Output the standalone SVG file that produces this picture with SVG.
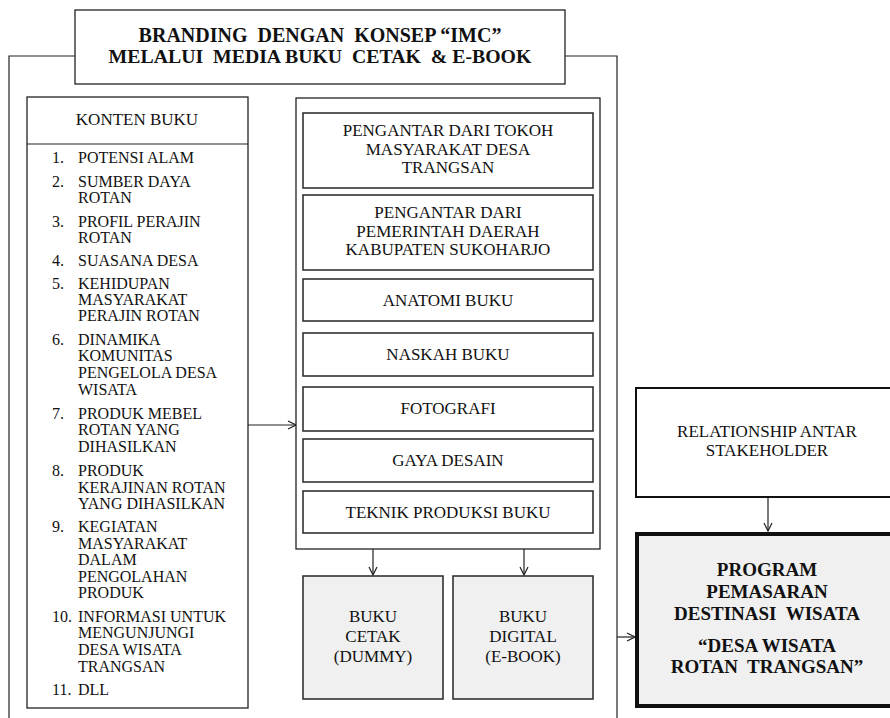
<svg xmlns="http://www.w3.org/2000/svg" width="890" height="718" viewBox="0 0 890 718">
<style>
text{font-family:"Liberation Serif","Times New Roman",serif;fill:#111}
.t{font-size:16px}
.m{font-size:17px;text-anchor:middle}
.b{font-weight:bold;text-anchor:middle}
.box{fill:#fff;stroke:#222;stroke-width:1.3}
.in{fill:#fff;stroke:#333;stroke-width:1.6}
.gray{fill:#f0f0f0;stroke:#333;stroke-width:1.6}
.ln{fill:none;stroke:#222;stroke-width:1.2}
</style>
<defs>
<marker id="ah" markerWidth="10" markerHeight="10" refX="9" refY="5" orient="auto" markerUnits="userSpaceOnUse">
<path d="M1,1 L9,5 L1,9" fill="none" stroke="#222" stroke-width="1.2"/>
</marker>
</defs>
<g id="connectors">
<path class="ln" d="M75,56 H9 V718"/>
<path class="ln" d="M565,56 H617 V718"/>
<path class="ln" d="M248,425 H296" marker-end="url(#ah)"/>
<path class="ln" d="M373,549 V575" marker-end="url(#ah)"/>
<path class="ln" d="M524,549 V575" marker-end="url(#ah)"/>
<path class="ln" d="M617,637 H635" marker-end="url(#ah)"/>
<path class="ln" d="M768,497 V531" marker-end="url(#ah)"/>
</g>
<g id="title">
<rect class="box" x="75" y="10" width="490" height="74"/>
<text class="b" x="320" y="42" font-size="20" xml:space="preserve">BRANDING  DENGAN  KONSEP “IMC”</text>
<text class="b" x="320" y="63" font-size="19.8" xml:space="preserve">MELALUI  MEDIA BUKU  CETAK  &amp; E-BOOK</text>
</g>
<g id="konten-buku">
<rect class="box" x="27" y="97" width="221" height="611"/>
<line class="ln" x1="27" y1="144" x2="248" y2="144"/>
<text class="m" x="137" y="125">KONTEN BUKU</text>
<g class="t">
<text x="52" y="163">1.</text><text x="78" y="163">POTENSI ALAM</text>
<text x="52" y="187">2.</text><text x="78" y="187">SUMBER DAYA</text><text x="78" y="203">ROTAN</text>
<text x="52" y="227">3.</text><text x="78" y="227">PROFIL PERAJIN</text><text x="78" y="243">ROTAN</text>
<text x="52" y="266">4.</text><text x="78" y="266">SUASANA DESA</text>
<text x="52" y="289">5.</text><text x="78" y="289">KEHIDUPAN</text><text x="78" y="305">MASYARAKAT</text><text x="78" y="321">PERAJIN ROTAN</text>
<text x="52" y="345">6.</text><text x="78" y="345">DINAMIKA</text><text x="78" y="361">KOMUNITAS</text><text x="78" y="378">PENGELOLA DESA</text><text x="78" y="395">WISATA</text>
<text x="52" y="419">7.</text><text x="78" y="419">PRODUK MEBEL</text><text x="78" y="435">ROTAN YANG</text><text x="78" y="452">DIHASILKAN</text>
<text x="52" y="476">8.</text><text x="78" y="476">PRODUK</text><text x="78" y="493">KERAJINAN ROTAN</text><text x="78" y="509">YANG DIHASILKAN</text>
<text x="52" y="532">9.</text><text x="78" y="532">KEGIATAN</text><text x="78" y="549">MASYARAKAT</text><text x="78" y="565">DALAM</text><text x="78" y="582">PENGOLAHAN</text><text x="78" y="598">PRODUK</text>
<text x="52" y="622">10.</text><text x="78" y="622">INFORMASI UNTUK</text><text x="78" y="638">MENGUNJUNGI</text><text x="78" y="655">DESA WISATA</text><text x="78" y="672">TRANGSAN</text>
<text x="52" y="695">11.</text><text x="78" y="695">DLL</text>
</g>
</g>
<g id="isi-buku">
<rect class="box" x="296" y="98" width="304" height="451"/>
</g>
<g id="pengantar-tokoh">
<rect class="in" x="303" y="113" width="290" height="75"/>
<text class="m" x="448" y="136">PENGANTAR DARI TOKOH</text>
<text class="m" x="448" y="154.5">MASYARAKAT DESA</text>
<text class="m" x="448" y="173">TRANGSAN</text>
</g>
<g id="pengantar-pemerintah">
<rect class="in" x="303" y="195" width="290" height="75"/>
<text class="m" x="448" y="218">PENGANTAR DARI</text>
<text class="m" x="448" y="236.5">PEMERINTAH DAERAH</text>
<text class="m" x="448" y="255">KABUPATEN SUKOHARJO</text>
</g>
<g id="anatomi">
<rect class="in" x="303" y="279" width="290" height="42"/>
<text class="m" x="448" y="306">ANATOMI BUKU</text>
</g>
<g id="naskah">
<rect class="in" x="303" y="333" width="290" height="43"/>
<text class="m" x="448" y="360">NASKAH BUKU</text>
</g>
<g id="fotografi">
<rect class="in" x="303" y="387" width="290" height="44"/>
<text class="m" x="448" y="414">FOTOGRAFI</text>
</g>
<g id="gaya-desain">
<rect class="in" x="303" y="439" width="290" height="43"/>
<text class="m" x="448" y="466">GAYA DESAIN</text>
</g>
<g id="teknik-produksi">
<rect class="in" x="303" y="491" width="290" height="42"/>
<text class="m" x="448" y="518">TEKNIK PRODUKSI BUKU</text>
</g>
<g id="buku-cetak">
<rect class="gray" x="303" y="576" width="140" height="123"/>
<text class="m" x="373" y="622">BUKU</text>
<text class="m" x="373" y="642">CETAK</text>
<text class="m" x="373" y="662">(DUMMY)</text>
</g>
<g id="buku-digital">
<rect class="gray" x="453" y="576" width="140" height="123"/>
<text class="m" x="523" y="622">BUKU</text>
<text class="m" x="523" y="642">DIGITAL</text>
<text class="m" x="523" y="662">(E-BOOK)</text>
</g>
<g id="relationship">
<rect x="636" y="388" width="270" height="109" fill="#fff" stroke="#111" stroke-width="2"/>
<text class="m" x="767" y="437">RELATIONSHIP ANTAR</text>
<text class="m" x="767" y="456">STAKEHOLDER</text>
</g>
<g id="program">
<rect x="637" y="534" width="270" height="172" fill="#f0f0f0" stroke="#111" stroke-width="4"/>
<text class="b" x="767" y="576" font-size="19">PROGRAM</text>
<text class="b" x="767" y="598" font-size="19">PEMASARAN</text>
<text class="b" x="767" y="620" font-size="19" xml:space="preserve">DESTINASI  WISATA</text>
<text class="b" x="767" y="652" font-size="19">“DESA WISATA</text>
<text class="b" x="767" y="673" font-size="19" xml:space="preserve">ROTAN  TRANGSAN”</text>
</g>
</svg>
